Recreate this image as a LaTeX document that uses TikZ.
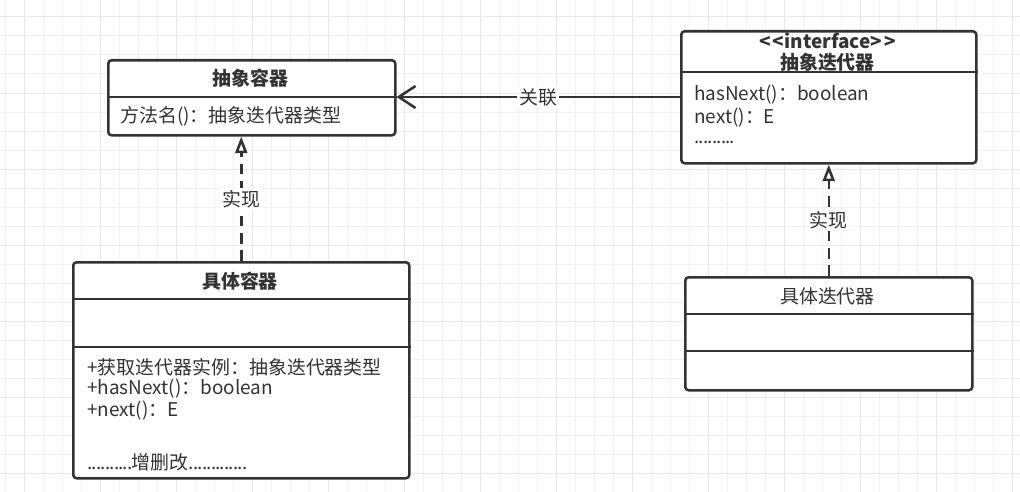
\documentclass[tikz,border=0pt]{standalone}
\usepackage{fontspec}
\setmainfont{Noto Sans CJK SC}
\usetikzlibrary{arrows.meta}
\definecolor{ink}{HTML}{333333}
\newcommand{\dotrun}[1]{\foreach \d in {1,...,#1}{.\kern-0.6pt}}

\begin{document}
\begin{tikzpicture}[x=0.75pt, y=-0.75pt, line width=1.9pt, every node/.style={text=ink},
  umlbox/.style={draw=ink, fill=white, rounded corners=2.5pt, anchor=north west, inner sep=0pt},
  sepline/.style={draw=ink, line width=1.9pt},
  member/.style={anchor=west, inner sep=0pt, font=\fontsize{14.2pt}{16pt}\selectfont},
  boxname/.style={inner sep=0pt, font=\fontsize{14.2pt}{16pt}\selectfont},
  assoc/.style={draw=ink, -{Straight Barb[length=12.5pt, width=16.5pt, line width=1.9pt]}},
  realize/.style={draw=ink, dash pattern=on 8pt off 5pt, -{Triangle[open, fill=white, length=12.5pt, width=9pt, line width=1.9pt]}},
  edgelabel/.style={fill=white, inner sep=1.5pt, font=\fontsize{14.2pt}{16pt}\selectfont}]
  \useasboundingbox[fill=white] (0,0) rectangle (1020,492);
  \foreach \gx in {5,24,...,1020} \draw[line width=0.75pt, gray!11] (\gx,0) -- (\gx,492);
  \foreach \gy in {-2,17,...,492} \draw[line width=0.75pt, gray!11] (0,\gy) -- (1020,\gy);
  \foreach \gx in {24,100,...,1020} \draw[line width=0.75pt, gray!18] (\gx,0) -- (\gx,492);
  \foreach \gy in {17,93,...,492} \draw[line width=0.75pt, gray!18] (0,\gy) -- (1020,\gy);

  \node[umlbox, minimum width=287*0.75pt, minimum height=75*0.75pt] (absC) at (107,59) {};
  \draw[sepline] (absC.west |- 0,97) -- (absC.east |- 0,97);
  \node[boxname] (absCname) at (250.5,78) {\bfseries 抽象容器};
  \node[member] (absCop) at (119,116) {方法名()：抽象迭代器类型};

  \node[umlbox, minimum width=295*0.75pt, minimum height=132*0.75pt] (absI) at (680,30) {};
  \draw[sepline] (absI.west |- 0,72) -- (absI.east |- 0,72);
  \node[boxname] (absIstereo) at (827.5,41) {\bfseries <\kern1.5pt{}<interface>\kern1.5pt{}>};
  \node[boxname] (absIname) at (827.5,62) {\bfseries 抽象迭代器};
  \node[member] (absIop1) at (693,95) {hasNext()：boolean};
  \node[member] (absIop2) at (693,118) {next()：E};
  \node[member] (absIop3) at (693,142) {\dotrun{9}};

  \node[umlbox, minimum width=336*0.75pt, minimum height=216*0.75pt] (conC) at (72,261) {};
  \draw[sepline] (conC.west |- 0,299) -- (conC.east |- 0,299);
  \draw[sepline] (conC.west |- 0,347) -- (conC.east |- 0,347);
  \node[boxname] (conCname) at (240,281) {\bfseries 具体容器};
  \node[member] (conCop1) at (86,367) {+获取迭代器实例：抽象迭代器类型};
  \node[member] (conCop2) at (86,389) {+hasNext()：boolean};
  \node[member] (conCop3) at (86,411) {+next()：E};
  \node[member] (conCop4) at (86,462) {\dotrun{10}增删改\dotrun{13}};

  \node[umlbox, minimum width=287*0.75pt, minimum height=113*0.75pt] (conI) at (684,276) {};
  \draw[sepline] (conI.west |- 0,314) -- (conI.east |- 0,314);
  \draw[sepline] (conI.west |- 0,351) -- (conI.east |- 0,351);
  \node[boxname] (conIname) at (827.5,296) {具体迭代器};

  \draw[assoc] (absI.west |- 0,97) -- (absC.east |- 0,97) node[edgelabel, midway] (assocLbl) {关联};
  \draw[realize] (conC.north) -- (conC.north |- absC.south) node[edgelabel, midway] (realC) {实现};
  \draw[realize] (conI.north) -- (absI.south) node[edgelabel, pos=0.5] (realI) {实现};
\end{tikzpicture}
\end{document}
